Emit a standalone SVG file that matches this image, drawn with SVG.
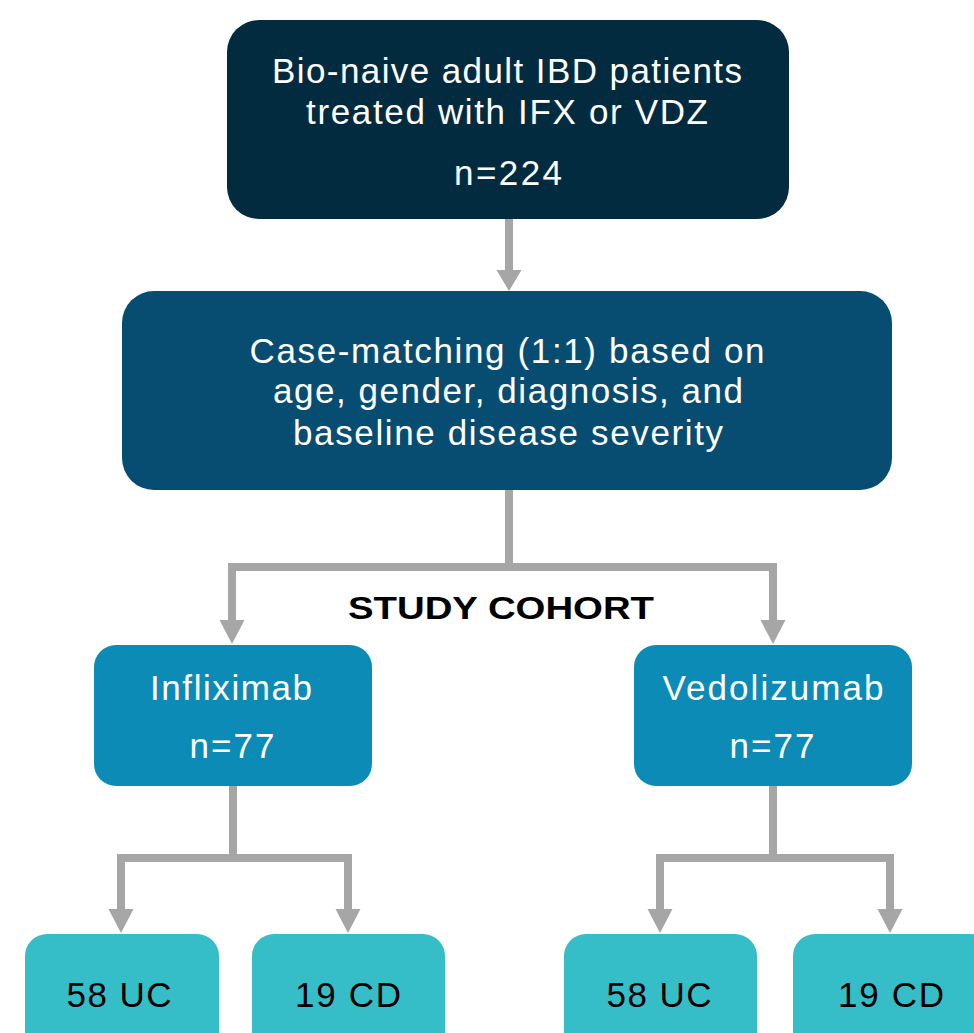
<svg xmlns="http://www.w3.org/2000/svg" width="974" height="1033" viewBox="0 0 974 1033">
<style>
.t{font-family:"Liberation Sans",Arial,sans-serif;font-size:35px;text-anchor:middle}
.w{fill:#ffffff}
.k{fill:#000000}
.c{fill:none;stroke:#A6A6A6;stroke-width:8}
.h{fill:#A6A6A6}
</style>
<g id="connectors">
<path class="c" d="M509,219 V272"/>
<polygon class="h" points="496.5,270 521.5,270 509,291"/>
<path class="c" d="M509,490 V567 M228,567 H777"/>
<path class="c" d="M232,563 V622 M773,563 V622"/>
<polygon class="h" points="219.5,620 244.5,620 232,644"/>
<polygon class="h" points="760.5,620 785.5,620 773,644"/>
<path class="c" d="M233,786 V858 M117,858 H352 M773,786 V858 M656,858 H894"/>
<path class="c" d="M121,854 V912 M348,854 V912 M660,854 V912 M890,854 V912"/>
<polygon class="h" points="108.5,909 133.5,909 121,933"/>
<polygon class="h" points="335.5,909 360.5,909 348,933"/>
<polygon class="h" points="647.5,909 672.5,909 660,933"/>
<polygon class="h" points="877.5,909 902.5,909 890,933"/>
</g>
<g id="n1">
<rect x="227" y="20" width="562" height="199" rx="32" fill="#032B40"/>
<text class="t w" x="507" y="83" textLength="470">Bio-naive adult IBD patients</text>
<text class="t w" x="507" y="124" textLength="402">treated with IFX or VDZ</text>
<text class="t w" x="508" y="185" textLength="108">n=224</text>
</g>
<g id="n2">
<rect x="122" y="291" width="770" height="199" rx="32" fill="#074D72"/>
<text class="t w" x="507" y="363" textLength="515">Case-matching (1:1) based on</text>
<text class="t w" x="508" y="403" textLength="470">age, gender, diagnosis, and</text>
<text class="t w" x="508" y="445" textLength="430">baseline disease severity</text>
</g>
<g id="label">
<text class="t k" x="501" y="619" style="font-weight:bold;font-size:32px" textLength="306" lengthAdjust="spacingAndGlyphs">STUDY COHORT</text>
</g>
<g id="n3">
<rect x="94" y="645" width="278" height="141" rx="22" fill="#0C8BB6"/>
<text class="t w" x="231" y="700" textLength="162">Infliximab</text>
<text class="t w" x="232" y="758" textLength="85">n=77</text>
</g>
<g id="n4">
<rect x="634" y="645" width="278" height="141" rx="22" fill="#0C8BB6"/>
<text class="t w" x="773" y="700" textLength="221">Vedolizumab</text>
<text class="t w" x="772" y="758" textLength="85">n=77</text>
</g>
<g id="n5">
<rect x="25" y="934" width="194" height="130" rx="22" fill="#35BEC8"/>
<text class="t k" x="119" y="1007" textLength="105">58 UC</text>
</g>
<g id="n6">
<rect x="252" y="934" width="193" height="130" rx="22" fill="#35BEC8"/>
<text class="t k" x="348" y="1007" textLength="106">19 CD</text>
</g>
<g id="n7">
<rect x="564" y="934" width="193" height="130" rx="22" fill="#35BEC8"/>
<text class="t k" x="659" y="1007" textLength="105">58 UC</text>
</g>
<g id="n8">
<rect x="793" y="934" width="200" height="130" rx="22" fill="#35BEC8"/>
<text class="t k" x="891" y="1007" textLength="106">19 CD</text>
</g>
</svg>
